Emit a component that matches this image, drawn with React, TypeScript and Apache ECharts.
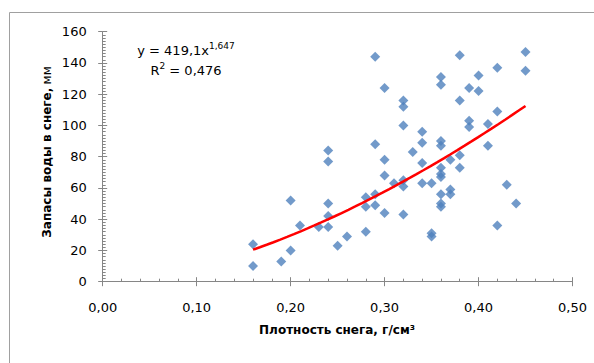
import React, { useEffect, useRef } from "react";
import * as echarts from "echarts";

// Snow density, g/cm3
const density = [
  0.16, 0.16, 0.19, 0.2, 0.2, 0.21, 0.23, 0.24, 0.24, 0.24, 0.24, 0.24,
  0.25, 0.26, 0.28, 0.28, 0.28, 0.29, 0.29, 0.29, 0.29, 0.3, 0.3, 0.3,
  0.3, 0.31, 0.32, 0.32, 0.32, 0.32, 0.32, 0.32, 0.33, 0.34, 0.34, 0.34,
  0.34, 0.35, 0.35, 0.35, 0.36, 0.36, 0.36, 0.36, 0.36, 0.36, 0.36, 0.36,
  0.36, 0.36, 0.37, 0.37, 0.37, 0.38, 0.38, 0.38, 0.38, 0.39, 0.39, 0.39,
  0.4, 0.4, 0.41, 0.41, 0.42, 0.42, 0.42, 0.43, 0.44, 0.45, 0.45,
];
// Snow water storage, mm
const waterStorage = [
  10, 24, 13, 20, 52, 36, 35, 84, 77, 50, 42, 35,
  23, 29, 32, 54, 48, 56, 49, 88, 144, 124, 78, 68,
  44, 63, 116, 112, 100, 65, 61, 43, 83, 96, 89, 76,
  63, 63, 31, 29, 131, 126, 90, 87, 73, 69, 67, 56,
  50, 48, 78, 59, 56, 145, 116, 81, 73, 124, 103, 99,
  132, 122, 101, 87, 137, 109, 36, 62, 50, 147, 135,
];
// Power trend line y = a * x^b (from the chart's equation)
const trendA = 419.1;
const trendB = 1.647;
const trendEquation = "y = 419,1x";
const trendExponent = "1,647";
const rSquared = "0,476";

const xName = "Плотность снега, г/см³";
const yNameMain = "Запасы воды в снеге,";
const yNameUnit = "мм";

const FONT = "DejaVu Sans";
const AXIS_COLOR = "#868686";

export default function App() {
  const ref = useRef<HTMLDivElement>(null);
  useEffect(() => {
    if (!ref.current) return;
    const chart = echarts.init(ref.current, undefined, { renderer: "svg" });
    const xMin = Math.min(...density);
    const xMax = Math.max(...density);
    const trend: number[][] = [];
    const steps = 40;
    for (let i = 0; i <= steps; i++) {
      const x = xMin + ((xMax - xMin) * i) / steps;
      trend.push([x, trendA * Math.pow(x, trendB)]);
    }
    const points = density.map((d, i) => [d, waterStorage[i]]);
    const labelStyle = { fontFamily: FONT, fontSize: 13, color: "#000" };
    chart.setOption({
      animation: false,
      grid: { left: 102.7, right: 21.5, top: 31.7, bottom: 81.3, containLabel: false },
      xAxis: [
        {
          type: "value", min: 0, max: 0.5, interval: 0.1, position: "bottom",
          axisLine: { show: true, onZero: false, lineStyle: { color: AXIS_COLOR } },
          axisTick: { show: true, inside: false, length: 4.5, lineStyle: { color: AXIS_COLOR } },
          axisLabel: { ...labelStyle, margin: 19, formatter: (v: number) => v.toFixed(2).replace(".", ",") },
          splitLine: { show: false },
        },
        {
          type: "value", min: 0, max: 0.5, interval: 0.1, position: "bottom",
          axisLine: { show: false, onZero: false },
          axisTick: { show: true, inside: true, length: 4.5, lineStyle: { color: AXIS_COLOR } },
          minorTick: { show: true, splitNumber: 5, length: 3, lineStyle: { color: AXIS_COLOR } },
          axisLabel: { show: false },
          splitLine: { show: false },
        },
      ],
      yAxis: [
        {
          type: "value", min: 0, max: 160, interval: 20, position: "left",
          axisLine: { show: true, onZero: false, lineStyle: { color: AXIS_COLOR } },
          axisTick: { show: true, inside: false, length: 4.5, lineStyle: { color: AXIS_COLOR } },
          axisLabel: { ...labelStyle, margin: 16 },
          splitLine: { show: false },
        },
        {
          type: "value", min: 0, max: 160, interval: 20, position: "left",
          axisLine: { show: false, onZero: false },
          axisTick: { show: true, inside: true, length: 4.5, lineStyle: { color: AXIS_COLOR } },
          minorTick: { show: true, splitNumber: 10, length: 3, lineStyle: { color: AXIS_COLOR } },
          axisLabel: { show: false },
          splitLine: { show: false },
        },
      ],
      series: [
        {
          type: "scatter", xAxisIndex: 0, yAxisIndex: 0, data: points,
          symbol: "diamond", symbolSize: 10,
          itemStyle: { color: "#4F81BD" },
          z: 2,
        },
        {
          type: "line", xAxisIndex: 0, yAxisIndex: 0, data: trend,
          showSymbol: false, smooth: false,
          lineStyle: { color: "#FF0000", width: 2.5 },
          z: 3,
        },
      ],
      graphic: [
        {
          type: "rect", silent: true, z: -1,
          shape: { x: 9.5, y: 12.5, width: 600, height: 400 },
          style: { fill: "none", stroke: "#a0a0a0", lineWidth: 1 },
        },
        {
          type: "text", x: 186, y: 50,
          style: {
            text: `{n|${trendEquation}}{s|${trendExponent}}`,
            align: "center", verticalAlign: "middle",
            rich: {
              n: { fontFamily: FONT, fontSize: 13, fill: "#000" },
              s: { fontFamily: FONT, fontSize: 9, fill: "#000", padding: [0, 0, 8, 0] },
            },
          },
        },
        {
          type: "text", x: 186, y: 70,
          style: {
            text: `{n|R}{s|2}{n| = ${rSquared}}`,
            align: "center", verticalAlign: "middle",
            rich: {
              n: { fontFamily: FONT, fontSize: 13, fill: "#000" },
              s: { fontFamily: FONT, fontSize: 9, fill: "#000", padding: [0, 0, 8, 0] },
            },
          },
        },
        {
          type: "text", x: 337, y: 330,
          style: {
            text: xName, align: "center", verticalAlign: "middle",
            font: `bold 12px "${FONT}"`, fill: "#000",
          },
        },
        {
          type: "text", x: 47, y: 152, rotation: Math.PI / 2,
          style: {
            text: `{b|${yNameMain}} {u|${yNameUnit}}`,
            align: "center", verticalAlign: "middle",
            rich: {
              b: { fontFamily: FONT, fontSize: 12, fontWeight: "bold", fill: "#000" },
              u: { fontFamily: FONT, fontSize: 12, fill: "#000" },
            },
          },
        },
      ],
    });
    return () => chart.dispose();
  }, []);
  return (
    <div
      ref={ref}
      style={{ position: "fixed", left: 0, top: 0, width: 594, height: 363, background: "#fff" }}
    />
  );
}
